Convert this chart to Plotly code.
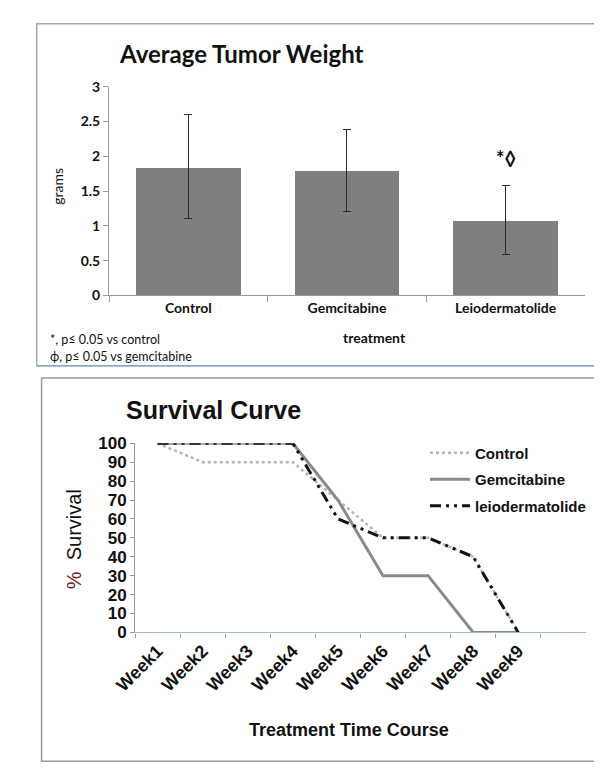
import plotly.graph_objects as go

# ---------------- data ----------------
treatments = ["Control", "Gemcitabine", "Leiodermatolide"]
tumor_weight = [1.84, 1.79, 1.07]
err_plus = [0.76, 0.59, 0.51]
err_minus = [0.74, 0.58, 0.48]
y_ticks_top = [0, 0.5, 1, 1.5, 2, 2.5, 3]

weeks = ["Week1", "Week2", "Week3", "Week4", "Week5", "Week6", "Week7", "Week8", "Week9"]
week_slots = weeks + [" "]
control_surv = [100, 90, 90, 90, 70, 50, 50, 40, 0]
gem_surv = [100, 100, 100, 100, 70, 30, 30, 0, 0]
leio_surv = [100, 100, 100, 100, 60, 50, 50, 40, 0]
y_ticks_bottom = list(range(0, 101, 10))

W, H = 602, 771
def px(x): return x / W
def py(y): return 1 - y / H

CAL = "Lato, 'Open Sans', sans-serif"
ARI = "'Liberation Sans', Arial, sans-serif"

fig = go.Figure()

# ---------------- top: bar chart ----------------
fig.add_trace(go.Bar(
    x=treatments, y=tumor_weight, xaxis="x", yaxis="y",
    marker=dict(color="#7f7f7f", line=dict(width=0)),
    width=0.66,
    error_y=dict(type="data", array=err_plus, arrayminus=err_minus,
                 color="#3a2420", thickness=1, width=4),
    showlegend=False,
))

# ---------------- bottom: survival lines ----------------
fig.add_trace(go.Scatter(
    x=weeks, y=control_surv, xaxis="x2", yaxis="y2", mode="lines",
    name="Control", legendrank=1, legendgroup="g0",
    line=dict(color="#b5b5b5", width=2.5, dash="dot"),
))
fig.add_trace(go.Scatter(
    x=weeks, y=gem_surv, xaxis="x2", yaxis="y2", mode="lines",
    name="Gemcitabine", legendrank=2, legendgroup="g1",
    line=dict(color="#8a8a8a", width=3),
))
fig.add_trace(go.Scatter(
    x=weeks, y=leio_surv, xaxis="x2", yaxis="y2", mode="lines",
    name="leiodermatolide", legendrank=3, legendgroup="g2",
    line=dict(color="#111111", width=3, dash="11px,5px,3px,5px,3px,5px"),
))

fig.update_layout(
    width=W, height=H, autosize=False,
    margin=dict(l=0, r=0, t=0, b=0),
    paper_bgcolor="white", plot_bgcolor="white",
    bargap=0,
    xaxis=dict(
        domain=[px(82), px(576)], anchor="y",
        type="category", categoryorder="array", categoryarray=treatments,
        range=[-0.5, 2.5], tickson="boundaries",
        ticks="outside", ticklen=6, tickcolor="#999999",
        showline=True, linecolor="#999999", linewidth=1,
        showgrid=False, zeroline=False,
        tickfont=dict(family=CAL, size=14, color="#111111", weight="bold"),
    ),
    yaxis=dict(
        domain=[py(285.5), py(71.5)], anchor="x",
        range=[0, 3], tickvals=y_ticks_top,
        ticktext=[f"{v:g}" for v in y_ticks_top],
        ticks="outside", ticklen=5, tickcolor="#999999",
        showline=True, linecolor="#999999", linewidth=1,
        showgrid=False, zeroline=False,
        tickfont=dict(family=CAL, size=14, color="#111111", weight="bold"),
    ),
    xaxis2=dict(
        domain=[px(109), px(577)], anchor="y2",
        type="category", categoryorder="array", categoryarray=week_slots,
        range=[-0.5, 9.5], tickson="boundaries",
        tickvals=week_slots, ticktext=weeks + [""],
        ticks="outside", ticklen=4, tickcolor="#999999",
        showline=True, linecolor="#9fb6cc", linewidth=1.2,
        showgrid=False, zeroline=False, tickangle=-45,
        tickfont=dict(family=ARI, size=18, color="#111111", weight="bold"),
    ),
    yaxis2=dict(
        domain=[py(631), py(437)], anchor="x2",
        range=[0, 100], tickvals=y_ticks_bottom,
        ticks="outside", ticklen=4, tickcolor="#999999",
        showline=True, linecolor="#999999", linewidth=1,
        showgrid=False, zeroline=False,
        tickfont=dict(family=ARI, size=17, color="#111111", weight="bold"),
    ),
    legend=dict(
        x=px(410), y=py(430), xanchor="left", yanchor="top",
        bgcolor="rgba(0,0,0,0)", borderwidth=0,
        font=dict(family=ARI, size=15, color="#111111", weight="bold"),
        tracegroupgap=4, itemwidth=40,
    ),
)

# frames
fig.add_shape(type="rect", xref="paper", yref="paper",
              x0=px(7), x1=px(594), y0=py(357.5), y1=py(7),
              line=dict(color="#a8a8a8", width=1.5))
fig.add_shape(type="line", xref="paper", yref="paper",
              x0=px(7), x1=px(594), y0=py(357.5), y1=py(357.5),
              line=dict(color="#8aa9c6", width=1.5))
fig.add_shape(type="rect", xref="paper", yref="paper",
              x0=px(12), x1=px(595), y0=py(763), y1=py(370),
              line=dict(color="#999999", width=1.5))

ann = [
    dict(text="Average Tumor Weight", x=px(90), y=py(37), xanchor="left", yanchor="middle",
         font=dict(family=CAL, size=24, color="#111111", weight="bold")),
    dict(text="grams", x=px(29), y=py(173), textangle=-90, xanchor="center", yanchor="middle",
         font=dict(family=CAL, size=14, color="#111111")),
    dict(text="treatment", x=px(358), y=py(329), xanchor="center", yanchor="middle",
         font=dict(family=CAL, size=14, color="#111111", weight="bold")),
    dict(text="*, p\u2264 0.05 vs control", x=px(19), y=py(331), xanchor="left", yanchor="middle",
         font=dict(family=CAL, size=12.5, color="#111111")),
    dict(text="\u03d5, p\u2264 0.05 vs gemcitabine", x=px(19), y=py(348), xanchor="left", yanchor="middle",
         font=dict(family=CAL, size=12.5, color="#111111")),
    dict(text="Survival Curve", x=px(98), y=py(403), xanchor="left", yanchor="middle",
         font=dict(family=ARI, size=25, color="#111111", weight="bold")),
    dict(text="<span style='color:#7a2418'>%</span>  Survival", x=px(45), y=py(535),
         textangle=-90, xanchor="center", yanchor="middle",
         font=dict(family=ARI, size=20, color="#111111")),
    dict(text="Treatment Time Course", x=px(331), y=py(731), xanchor="center", yanchor="middle",
         font=dict(family=ARI, size=18, color="#111111", weight="bold")),
]
for a in ann:
    a.update(xref="paper", yref="paper", showarrow=False)
    fig.add_annotation(**a)

fig.add_annotation(text="*\u25ca", x="Leiodermatolide", y=1.97, xref="x", yref="y",
                   showarrow=False, xanchor="center", yanchor="middle",
                   font=dict(family=CAL, size=20, color="#111111", weight="bold"))

fig.write_html("out.html")
